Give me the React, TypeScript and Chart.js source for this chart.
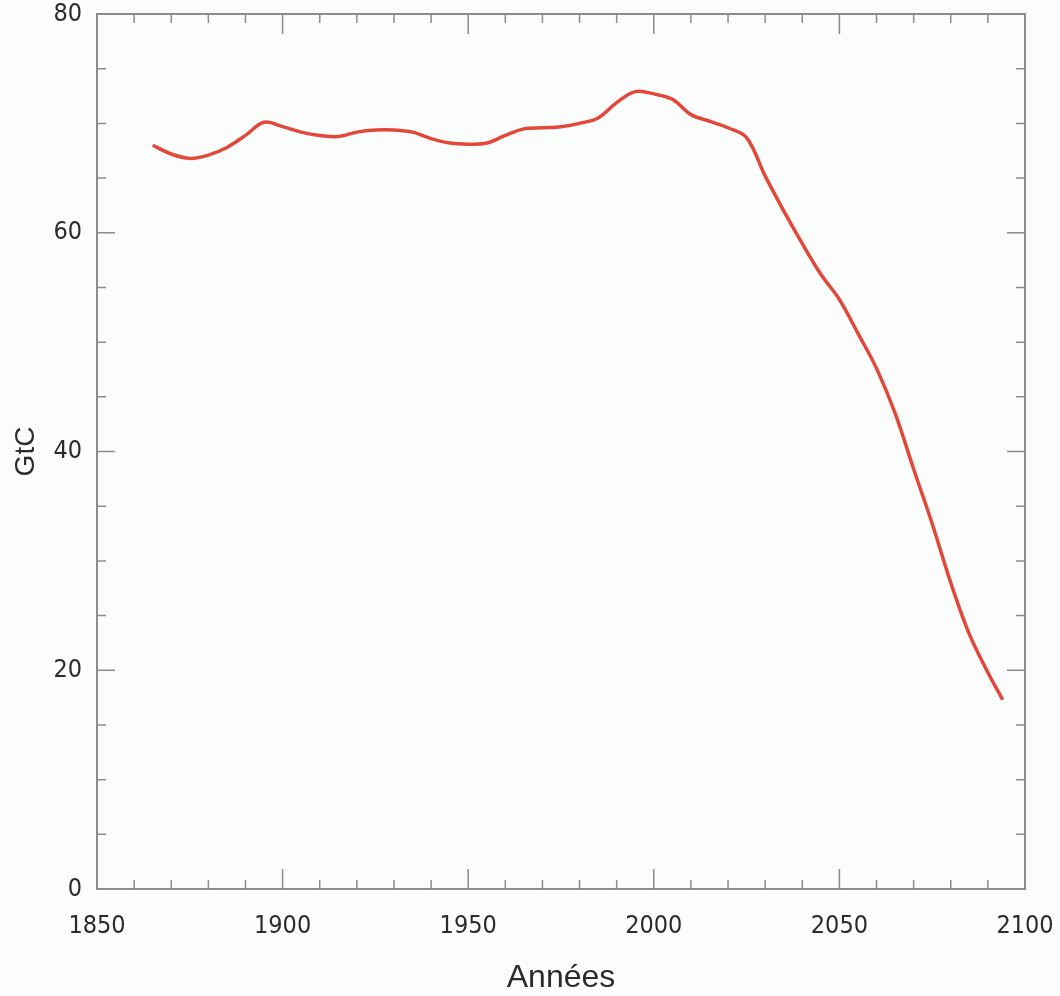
import React, { useEffect, useRef } from "react";
import { Chart, registerables } from "chart.js";

Chart.register(...registerables);

const years = [
  1865, 1870, 1875, 1880, 1885, 1890, 1895, 1900, 1905, 1910, 1915, 1920, 1925, 1930,
  1935, 1940, 1945, 1950, 1955, 1960, 1965, 1970, 1975, 1980, 1985, 1990, 1995, 2000,
  2005, 2010, 2015, 2020, 2025, 2030, 2035, 2040, 2045, 2050, 2055, 2060, 2065, 2070,
  2075, 2080, 2085, 2090, 2094,
];
const gtc = [
  68.0, 67.2, 66.8, 67.1, 67.8, 68.9, 70.1, 69.7, 69.2, 68.9, 68.8, 69.2, 69.4, 69.4,
  69.2, 68.6, 68.2, 68.1, 68.2, 68.9, 69.5, 69.6, 69.7, 70.0, 70.5, 71.9, 72.9, 72.7,
  72.2, 70.8, 70.2, 69.6, 68.7, 65.2, 62.0, 59.0, 56.2, 53.9, 50.8, 47.6, 43.5, 38.4,
  33.4, 28.0, 23.3, 19.8, 17.3,
];
const xTickLabels = [1850, 1900, 1950, 2000, 2050, 2100];
const yTickLabels = [0, 20, 40, 60, 80];

const AXIS_COLOR = "#8c8c8c";
const TEXT_COLOR = "#2b2b2b";
const LINE_COLOR = "#e2483a";
const TICK_FONT = "'Liberation Sans Narrow', 'DejaVu Sans Condensed', sans-serif";

const framePlugin = {
  id: "frame",
  beforeDraw(chart: any) {
    const { ctx, width, height } = chart;
    ctx.save();
    ctx.fillStyle = "#fbfdfd";
    ctx.fillRect(0, 0, width, height);
    ctx.restore();
  },
  afterDatasetsDraw(chart: any) {
    const { ctx, chartArea } = chart;
    const { left, right, top, bottom } = chartArea;
    const xs = chart.scales.x;
    const ys = chart.scales.y;
    ctx.save();
    ctx.strokeStyle = AXIS_COLOR;
    ctx.lineWidth = 2;
    ctx.strokeRect(left, top, right - left, bottom - top);
    ctx.lineWidth = 1.5;
    ctx.beginPath();
    xs.ticks.forEach((t: any) => {
      const px = xs.getPixelForValue(t.value);
      const major = xTickLabels.includes(t.value);
      const len = major ? 20 : 9;
      ctx.moveTo(px, bottom);
      ctx.lineTo(px, bottom - len);
      ctx.moveTo(px, top);
      ctx.lineTo(px, top + len);
    });
    ys.ticks.forEach((t: any) => {
      const py = ys.getPixelForValue(t.value);
      const major = yTickLabels.includes(t.value);
      const len = major ? 18 : 9;
      ctx.moveTo(left, py);
      ctx.lineTo(left + len, py);
      ctx.moveTo(right, py);
      ctx.lineTo(right - len, py);
    });
    ctx.stroke();
    ctx.restore();
  },
};

export default function App() {
  const ref = useRef<HTMLCanvasElement | null>(null);
  useEffect(() => {
    document.body.style.margin = "0";
    const canvas = ref.current;
    if (!canvas) return;
    const chart = new Chart(canvas, {
      type: "line",
      data: {
        datasets: [
          {
            label: "GtC",
            data: years.map((y, i) => ({ x: y, y: gtc[i] })),
            borderColor: LINE_COLOR,
            borderWidth: 3.5,
            pointRadius: 0,
            tension: 0.35,
            fill: false,
          },
        ],
      },
      options: {
        animation: false,
        responsive: false,
        maintainAspectRatio: false,
        layout: { padding: { top: 14, right: 35, left: 0, bottom: 0 } },
        plugins: { legend: { display: false }, tooltip: { enabled: false } },
        scales: {
          x: {
            type: "linear",
            min: 1850,
            max: 2100,
            afterFit: (s: any) => {
              s.height = 107;
              s.paddingLeft = 0;
              s.paddingRight = 0;
            },
            grid: { display: false, drawTicks: false },
            border: { display: false },
            ticks: {
              stepSize: 10,
              autoSkip: false,
              maxRotation: 0,
              padding: 22,
              color: TEXT_COLOR,
              font: { family: TICK_FONT, size: 25 },
              callback: (v: any) => (xTickLabels.includes(Number(v)) ? String(v) : ""),
            },
            title: {
              display: true,
              text: "Années",
              color: TEXT_COLOR,
              padding: { top: 0, bottom: 0 },
              font: { family: "'Liberation Sans', Arial, sans-serif", size: 32, lineHeight: 1.1 },
            },
          },
          y: {
            type: "linear",
            min: 0,
            max: 80,
            afterFit: (s: any) => {
              s.width = 97;
              s.paddingTop = 0;
              s.paddingBottom = 0;
            },
            grid: { display: false, drawTicks: false },
            border: { display: false },
            ticks: {
              stepSize: 5,
              autoSkip: false,
              padding: 15,
              color: TEXT_COLOR,
              font: { family: TICK_FONT, size: 25 },
              callback: (v: any) => (yTickLabels.includes(Number(v)) ? String(v) : ""),
            },
            title: {
              display: true,
              text: "GtC",
              color: TEXT_COLOR,
              padding: { top: 9, bottom: 0 },
              font: { family: "'Liberation Sans', Arial, sans-serif", size: 28, lineHeight: 1.2 },
            },
          },
        },
      },
      plugins: [framePlugin],
    });
    return () => chart.destroy();
  }, []);
  return (
    <div style={{ width: 1060, height: 996 }}>
      <canvas ref={ref} width={1060} height={996} style={{ display: "block", width: 1060, height: 996 }} />
    </div>
  );
}
